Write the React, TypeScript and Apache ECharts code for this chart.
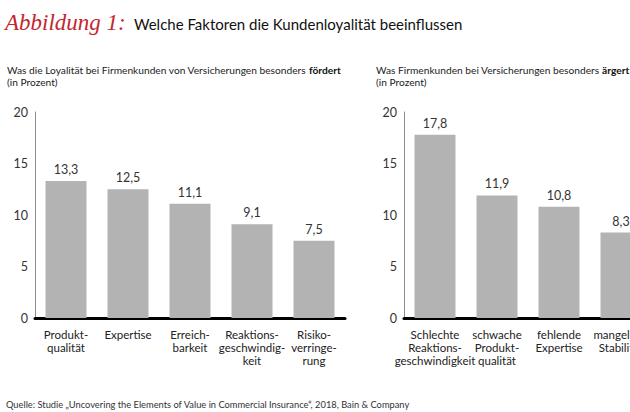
import React, { useEffect, useRef } from "react";
import * as echarts from "echarts";

const leftCategories = ["Produkt-\nqualität", "Expertise", "Erreich-\nbarkeit", "Reaktions-\ngeschwindig-\nkeit", "Risiko-\nverringe-\nrung"];
const leftValues = [13.3, 12.5, 11.1, 9.1, 7.5];
const rightCategories = ["Schlechte\nReaktions-\ngeschwindigkeit", "schwache\nProdukt-\nqualität", "fehlende\nExpertise", "mangelnde\nStabilität"];
const rightValues = [17.8, 11.9, 10.8, 8.3];
const yTicks = [0, 5, 10, 15, 20];

const FONT = "Lato, 'Noto Sans', sans-serif";
const BAR = "#b3b3b3";

export default function App() {
  const ref = useRef<HTMLDivElement>(null);
  useEffect(() => {
    if (!ref.current) return;
    const chart = echarts.init(ref.current, null, { renderer: "svg" });
    const yAxisCommon = (gridIndex: number) => ({
      type: "value" as const,
      gridIndex,
      min: yTicks[0],
      max: yTicks[yTicks.length - 1],
      interval: 5,
      axisLine: { show: true, lineStyle: { color: "#8c8c8c", width: 1 } },
      axisTick: { show: false },
      splitLine: { show: false },
      axisLabel: { color: "#333", fontSize: 12.5, fontFamily: FONT, margin: 7 },
    });
    const xAxisCommon = (gridIndex: number, data: string[]) => ({
      type: "category" as const,
      gridIndex,
      data,
      axisLine: { show: true, lineStyle: { color: "#000", width: 3 } },
      axisTick: { show: false },
      axisLabel: {
        interval: 0,
        color: "#222",
        fontSize: 11.5,
        lineHeight: 13,
        fontFamily: FONT,
        margin: 10,
        verticalAlign: "top" as const,
      },
    });
    const seriesCommon = (idx: number, data: number[]) => ({
      type: "bar" as const,
      xAxisIndex: idx,
      yAxisIndex: idx,
      data,
      barWidth: 41,
      itemStyle: { color: BAR },
      label: {
        show: true,
        position: "top" as const,
        distance: 5,
        color: "#333",
        fontSize: 12.5,
        fontFamily: FONT,
        formatter: (p: any) => String(p.value).replace(".", ","),
      },
    });
    const subStyle = {
      color: "#222",
      fontSize: 10.2,
      lineHeight: 12,
      fontWeight: "normal" as const,
      fontFamily: FONT,
      rich: { b: { fontWeight: "bold" as const, fontSize: 10.2, color: "#111", fontFamily: FONT } },
    };
    chart.setOption({
      animation: false,
      backgroundColor: "#fff",
      title: [
        {
          text: "Abbildung 1:",
          left: 0,
          top: 6,
          textStyle: { color: "#c4262e", fontSize: 23, fontStyle: "italic", fontWeight: "normal", fontFamily: "'Liberation Serif', serif" },
        },
        {
          text: "Welche Faktoren die Kundenloyalität beeinflussen",
          left: 129,
          top: 11,
          textStyle: { color: "#111", fontSize: 15, fontWeight: "normal", fontFamily: FONT },
        },
        {
          text: "Was die Loyalität bei Firmenkunden von Versicherungen besonders {b|fördert}\n(in Prozent)",
          left: 2,
          top: 59,
          textStyle: subStyle,
        },
        {
          text: "Was Firmenkunden bei Versicherungen besonders {b|ärgert}\n(in Prozent)",
          left: 371,
          top: 59,
          textStyle: subStyle,
        },
        {
          text: "Quelle: Studie „Uncovering the Elements of Value in Commercial Insurance“, 2018, Bain & Company",
          left: 1,
          top: 395,
          textStyle: { color: "#333", fontSize: 9.3, fontWeight: "normal", fontFamily: FONT },
        },
      ],
      grid: [
        { left: 35, top: 112, width: 310, height: 206 },
        { left: 404, top: 112, width: 248, height: 206 },
      ],
      xAxis: [xAxisCommon(0, leftCategories), xAxisCommon(1, rightCategories)],
      yAxis: [yAxisCommon(0), yAxisCommon(1)],
      series: [seriesCommon(0, leftValues), seriesCommon(1, rightValues)],
    });
    return () => chart.dispose();
  }, []);
  return (
    <div
      ref={ref}
      style={{ position: "fixed", left: 0, top: 0, width: 720, height: 412, background: "#fff" }}
    />
  );
}
